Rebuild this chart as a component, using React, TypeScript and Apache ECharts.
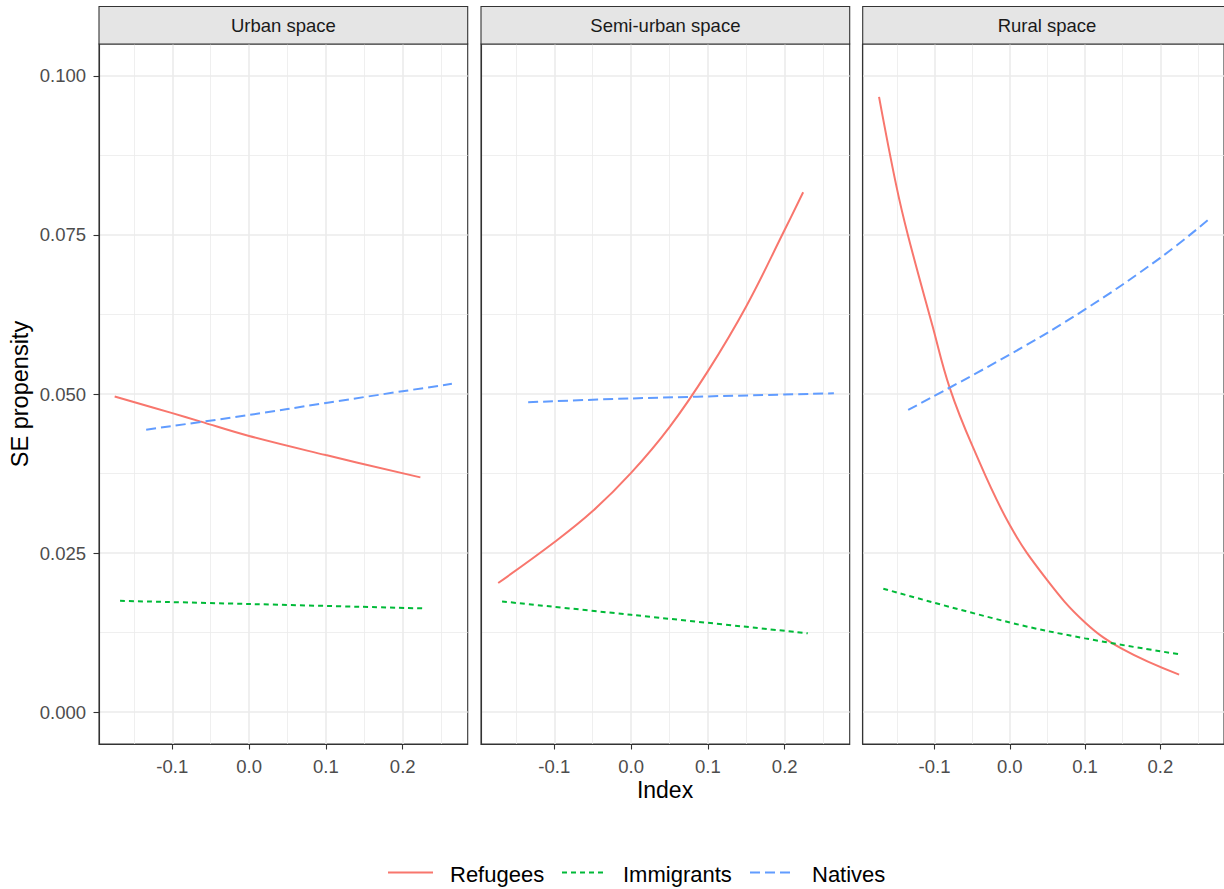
import React, { useEffect, useRef } from "react";
import * as echarts from "echarts";

const panelNames = ["Urban space", "Semi-urban space", "Rural space"];
const groups = ["Refugees", "Immigrants", "Natives"];
const groupColors = ["#F8766D", "#00BA38", "#619CFF"];
const groupDash: any[] = ["solid", [5, 4], [10, 5]];

const xTicks = [-0.1, 0, 0.1, 0.2];
const xMinor = [-0.15, -0.05, 0.05, 0.15, 0.25];
const yTicks = [0, 0.025, 0.05, 0.075, 0.1];
const yMinor = [0.0125, 0.0375, 0.0625, 0.0875];

// Urban space
const urbanRefugeesX = [-0.175, -0.1, -0.064, 0, 0.1, 0.223];
const urbanRefugeesY = [0.0496, 0.047, 0.0457, 0.0434, 0.0404, 0.0369];
const urbanImmigrantsX = [-0.168, 0, 0.23];
const urbanImmigrantsY = [0.0175, 0.017, 0.0163];
const urbanNativesX = [-0.134, 0, 0.1, 0.264];
const urbanNativesY = [0.0444, 0.0467, 0.0486, 0.0516];

// Semi-urban space
const semiRefugeesX = [-0.173, -0.1, -0.05, 0, 0.05, 0.1, 0.15, 0.2, 0.224];
const semiRefugeesY = [0.0203, 0.0267, 0.0316, 0.0376, 0.0448, 0.0536, 0.0638, 0.0758, 0.0817];
const semiImmigrantsX = [-0.168, 0, 0.23];
const semiImmigrantsY = [0.0174, 0.0153, 0.0124];
const semiNativesX = [-0.134, 0, 0.264];
const semiNativesY = [0.0487, 0.0493, 0.0501];

// Rural space
const ruralRefugeesX = [-0.1737, -0.1507, -0.1354, -0.1029, -0.0799, -0.0495, 0, 0.0487, 0.1, 0.15, 0.225];
const ruralRefugeesY = [0.0967, 0.0827, 0.075, 0.0608, 0.051, 0.0418, 0.0294, 0.0209, 0.0141, 0.0099, 0.0059];
const ruralImmigrantsX = [-0.168, 0, 0.1, 0.225];
const ruralImmigrantsY = [0.0194, 0.0141, 0.0116, 0.0091];
const ruralNativesX = [-0.135, 0, 0.1, 0.2, 0.265];
const ruralNativesY = [0.0475, 0.0562, 0.0633, 0.0714, 0.0775];

const panelData = [
  [
    [urbanRefugeesX, urbanRefugeesY],
    [urbanImmigrantsX, urbanImmigrantsY],
    [urbanNativesX, urbanNativesY],
  ],
  [
    [semiRefugeesX, semiRefugeesY],
    [semiImmigrantsX, semiImmigrantsY],
    [semiNativesX, semiNativesY],
  ],
  [
    [ruralRefugeesX, ruralRefugeesY],
    [ruralImmigrantsX, ruralImmigrantsY],
    [ruralNativesX, ruralNativesY],
  ],
];

const FONT = "Liberation Sans, Arial, Helvetica, sans-serif";
const XMIN = -0.1954;
const XMAX = 0.2846;
const YMIN = -0.005;
const YMAX = 0.105;
const gridLefts = [99, 481, 862.7];
const gridWidth = 368.7;
const gridTop = 44;
const gridHeight = 700;
const legendLineX = [388, 562, 750];
const legendTextX = [450, 623, 812];

export default function App() {
  const ref = useRef<HTMLDivElement>(null);
  useEffect(() => {
    if (!ref.current) return;
    const chart = echarts.init(ref.current, undefined, { renderer: "svg" });

    const grids = gridLefts.map((l) => ({
      left: l,
      top: gridTop,
      width: gridWidth,
      height: gridHeight,
      show: true,
      borderColor: "#333333",
      borderWidth: 1.1,
      backgroundColor: "transparent",
    }));

    const tickStyle = { color: "#333333", width: 1.1 };
    const xAxes: any[] = [];
    const yAxes: any[] = [];
    gridLefts.forEach((_, p) => {
      xAxes.push({
        type: "value",
        gridIndex: p,
        position: "bottom",
        min: XMIN,
        max: XMAX,
        axisLine: { show: true, onZero: false, lineStyle: { color: "#333333", width: 1.1 } },
        axisTick: { show: true, length: 5.5, lineStyle: tickStyle, customValues: xTicks },
        axisLabel: {
          customValues: xTicks,
          formatter: (v: number) => v.toFixed(1),
          color: "#4D4D4D",
          fontSize: 18.5,
          fontFamily: FONT,
          margin: 13,
        },
        splitLine: { show: true, lineStyle: { color: "#EBEBEB", width: 1.6 } },
      });
      yAxes.push({
        type: "value",
        gridIndex: p,
        position: "left",
        min: YMIN,
        max: YMAX,
        axisLine: { show: true, onZero: false, lineStyle: { color: "#333333", width: 1.1 } },
        axisTick: { show: p === 0, length: 5.5, lineStyle: tickStyle, customValues: yTicks },
        axisLabel: {
          show: p === 0,
          customValues: yTicks,
          formatter: (v: number) => v.toFixed(3),
          color: "#4D4D4D",
          fontSize: 18.5,
          fontFamily: FONT,
          margin: 13,
        },
        splitLine: { show: true, lineStyle: { color: "#EBEBEB", width: 1.6 } },
      });
    });
    gridLefts.forEach((_, p) => {
      xAxes.push({
        type: "value",
        gridIndex: p,
        position: "bottom",
        min: XMIN,
        max: XMAX,
        axisLine: { show: false, onZero: false },
        axisTick: { show: false, customValues: xMinor },
        axisLabel: { show: false, customValues: xMinor },
        splitLine: { show: true, lineStyle: { color: "#EBEBEB", width: 0.8 } },
      });
      yAxes.push({
        type: "value",
        gridIndex: p,
        position: "left",
        min: YMIN,
        max: YMAX,
        axisLine: { show: false, onZero: false },
        axisTick: { show: false, customValues: yMinor },
        axisLabel: { show: false, customValues: yMinor },
        splitLine: { show: true, lineStyle: { color: "#EBEBEB", width: 0.8 } },
      });
    });

    const series: any[] = [];
    panelData.forEach((pd, p) => {
      pd.forEach(([xs, ys], g) => {
        series.push({
          type: "line",
          name: groups[g],
          xAxisIndex: p,
          yAxisIndex: p,
          data: xs.map((x: number, i: number) => [x, ys[i]]),
          symbol: "none",
          showSymbol: false,
          smooth: 0.4,
          z: 5,
          itemStyle: { color: groupColors[g] },
          lineStyle: { color: groupColors[g], width: 2, type: groupDash[g] },
        });
      });
    });

    const graphics: any[] = [];
    gridLefts.forEach((l, p) => {
      graphics.push({
        type: "rect",
        shape: { x: l, y: 6.5, width: gridWidth, height: 37.5 },
        style: { fill: "#E5E5E5", stroke: "#333333", lineWidth: 1.1 },
        z: 10,
      });
      graphics.push({
        type: "text",
        x: l + gridWidth / 2,
        y: 25.5,
        style: {
          text: panelNames[p],
          fill: "#1A1A1A",
          font: `18.5px ${FONT}`,
          textAlign: "center",
          textVerticalAlign: "middle",
        },
        z: 11,
      });
    });
    graphics.push({
      type: "text",
      x: 665,
      y: 790,
      style: { text: "Index", fill: "#000000", font: `23px ${FONT}`, textAlign: "center", textVerticalAlign: "middle" },
    });
    graphics.push({
      type: "text",
      x: 20,
      y: 394,
      rotation: Math.PI / 2,
      style: { text: "SE propensity", fill: "#000000", font: `23.5px ${FONT}`, textAlign: "center", textVerticalAlign: "middle" },
    });
    groups.forEach((g, i) => {
      graphics.push({
        type: "line",
        shape: { x1: legendLineX[i], y1: 872.5, x2: legendLineX[i] + 45, y2: 872.5 },
        style: {
          stroke: groupColors[i],
          lineWidth: 2,
          lineDash: groupDash[i] === "solid" ? null : groupDash[i],
        },
      });
      graphics.push({
        type: "text",
        x: legendTextX[i],
        y: 874.5,
        style: { text: g, fill: "#000000", font: `22px ${FONT}`, textAlign: "left", textVerticalAlign: "middle" },
      });
    });

    chart.setOption({
      animation: false,
      backgroundColor: "#FFFFFF",
      grid: grids,
      xAxis: xAxes,
      yAxis: yAxes,
      series,
      graphic: graphics,
    });
    return () => chart.dispose();
  }, []);
  return (
    <div
      ref={ref}
      style={{ position: "absolute", left: 0, top: 0, width: 1224, height: 889 }}
    />
  );
}
